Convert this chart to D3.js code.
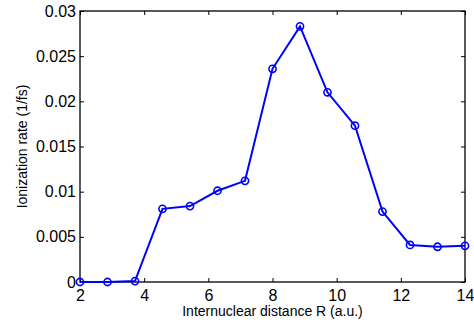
<!DOCTYPE html>
<html>
<head>
<meta charset="utf-8">
<script src="https://cdn.jsdelivr.net/npm/d3@7"></script>
<style>
  body { margin: 0; background: #fff; }
  svg { display: block; font-family: "Liberation Sans", Arial, sans-serif; }
</style>
</head>
<body>
<svg id="chart" width="474" height="324"></svg>
<script>
// Data
const distanceR = [2, 2.857, 3.714, 4.571, 5.429, 6.286, 7.143, 8, 8.857, 9.714, 10.571, 11.429, 12.286, 13.143, 14];
const ionRate = [0, 0, 0.0001, 0.0081, 0.0084, 0.0101, 0.0112, 0.0236, 0.0283, 0.0210, 0.0173, 0.0078, 0.0041, 0.0039, 0.0040];
const xTicks = [2, 4, 6, 8, 10, 12, 14];
const yTicks = [0, 0.005, 0.01, 0.015, 0.02, 0.025, 0.03];

const svg = d3.select('#chart');
const margin = { left: 80, top: 11, right: 9, bottom: 42 };
const width = 474 - margin.left - margin.right;
const height = 324 - margin.top - margin.bottom;

const x = d3.scaleLinear().domain([2, 14]).range([0, width]);
const y = d3.scaleLinear().domain([0, 0.03]).range([height, 0]);

const g = svg.append("g").attr("transform", `translate(${margin.left},${margin.top})`);

// Box with inward ticks on all sides
const tickLen = 4;
g.append("g")
    .attr("transform", `translate(0,${height})`)
    .call(d3.axisBottom(x).tickValues(xTicks).tickSizeInner(-tickLen).tickSizeOuter(0).tickPadding(7).tickFormat(d3.format("d")))
    .call(a => a.selectAll("text").style("font-size", "16px").attr("dy", "0.72em"));
g.append("g")
    .call(d3.axisTop(x).tickValues(xTicks).tickSizeInner(-tickLen).tickSizeOuter(0).tickFormat(""));
g.append("g")
    .call(d3.axisLeft(y).tickValues(yTicks).tickSizeInner(-tickLen).tickSizeOuter(0).tickPadding(4).tickFormat(d => d === 0 ? "0" : d3.format("")(+d.toFixed(3))))
    .call(a => a.selectAll("text").style("font-size", "16px"));
g.append("g")
    .attr("transform", `translate(${width},0)`)
    .call(d3.axisRight(y).tickValues(yTicks).tickSizeInner(-tickLen).tickSizeOuter(0).tickFormat(""));

svg.selectAll(".domain").remove();
svg.selectAll(".tick line").style("stroke", "#000").style("stroke-width", 1);
svg.selectAll(".tick text").style("fill", "#000").style("font-family", "'Liberation Sans', Arial, sans-serif");

g.append("rect")
    .attr("width", width).attr("height", height)
    .style("fill", "none").style("stroke", "#000").style("stroke-width", 1.3);

// Series
const pts = distanceR.map((r, i) => ({ r, v: ionRate[i] }));
g.append("path")
    .datum(pts)
    .attr("d", d3.line().x(d => x(d.r)).y(d => y(d.v)))
    .style("fill", "none").style("stroke", "#0000ff").style("stroke-width", 2);

g.selectAll("circle")
    .data(pts)
    .join("circle")
    .attr("cx", d => x(d.r)).attr("cy", d => y(d.v)).attr("r", 3.6)
    .style("fill", "none").style("stroke", "#0000ff").style("stroke-width", 1.6);

// Axis labels
svg.append("text")
    .attr("x", margin.left + width / 2).attr("y", 316)
    .attr("text-anchor", "middle")
    .style("font-size", "14px")
    .text("Internuclear distance R (a.u.)");

svg.append("text")
    .attr("transform", `translate(27,${margin.top + height / 2}) rotate(-90)`)
    .attr("text-anchor", "middle")
    .style("font-size", "14px")
    .text("Ionization rate (1/fs)");
</script>
</body>
</html>
